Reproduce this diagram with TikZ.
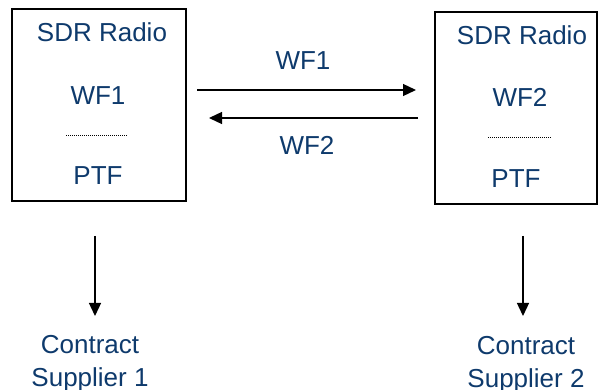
\documentclass[tikz,border=0pt]{standalone}
\usepackage{fontspec}
\setmainfont{Liberation Sans}
\usetikzlibrary{arrows.meta}
\definecolor{txtblue}{RGB}{14,58,108}
\begin{document}
\begin{tikzpicture}[x=1pt,y=-1pt,
  lbl/.style={text=txtblue, font=\fontsize{26}{33}\selectfont, inner sep=0pt, anchor=base, align=center},
  box/.style={draw=black, line width=1.3pt, inner sep=0pt},
  conn/.style={draw=black, line width=1.3pt, -{Triangle[length=13pt,width=12pt]}},
  dots/.style={draw=black, line width=0.8pt, dash pattern=on 1pt off 1pt}]
\useasboundingbox (0,0) rectangle (598,390);
% boxes
\node[box, minimum width=174pt, minimum height=192pt] (boxL) at (99,105) {};
\node[box, minimum width=162pt, minimum height=192pt] (boxR) at (516,108) {};
% left box texts
\node[lbl] (sdrL) at (102,42) {SDR Radio};
\node[lbl] (wfL) at (98,105) {WF1};
\coordinate (dotLa) at (66,135);
\coordinate (dotLb) at (128,135);
\draw[dots] (dotLa) -- (dotLb);
\node[lbl] (ptfL) at (98,185) {PTF};
% right box texts
\node[lbl] (sdrR) at (522,45) {SDR Radio};
\node[lbl] (wfR) at (520,107) {WF2};
\coordinate (dotRa) at (488,137);
\coordinate (dotRb) at (551,137);
\draw[dots] (dotRa) -- (dotRb);
\node[lbl] (ptfR) at (516,188) {PTF};
% exchange arrows
\coordinate (a1s) at (197,90);
\coordinate (a1e) at (416,90);
\draw[conn] (a1s) -- (a1e);
\node[lbl] (lab1) at (303,70) {WF1};
\coordinate (a2s) at (418,118);
\coordinate (a2e) at (209,118);
\draw[conn] (a2s) -- (a2e);
\node[lbl] (lab2) at (307,155) {WF2};
% down arrows
\node[lbl] (supL) at (90,386.5) {Contract\\Supplier 1};
\node[lbl] (supR) at (526,388) {Contract\\Supplier 2};
\coordinate (dLs) at (95,236);
\coordinate (dLe) at (95,316);
\draw[conn] (dLs) -- (dLe);
\coordinate (dRs) at (523,236);
\coordinate (dRe) at (523,316);
\draw[conn] (dRs) -- (dRe);
\end{tikzpicture}
\end{document}
